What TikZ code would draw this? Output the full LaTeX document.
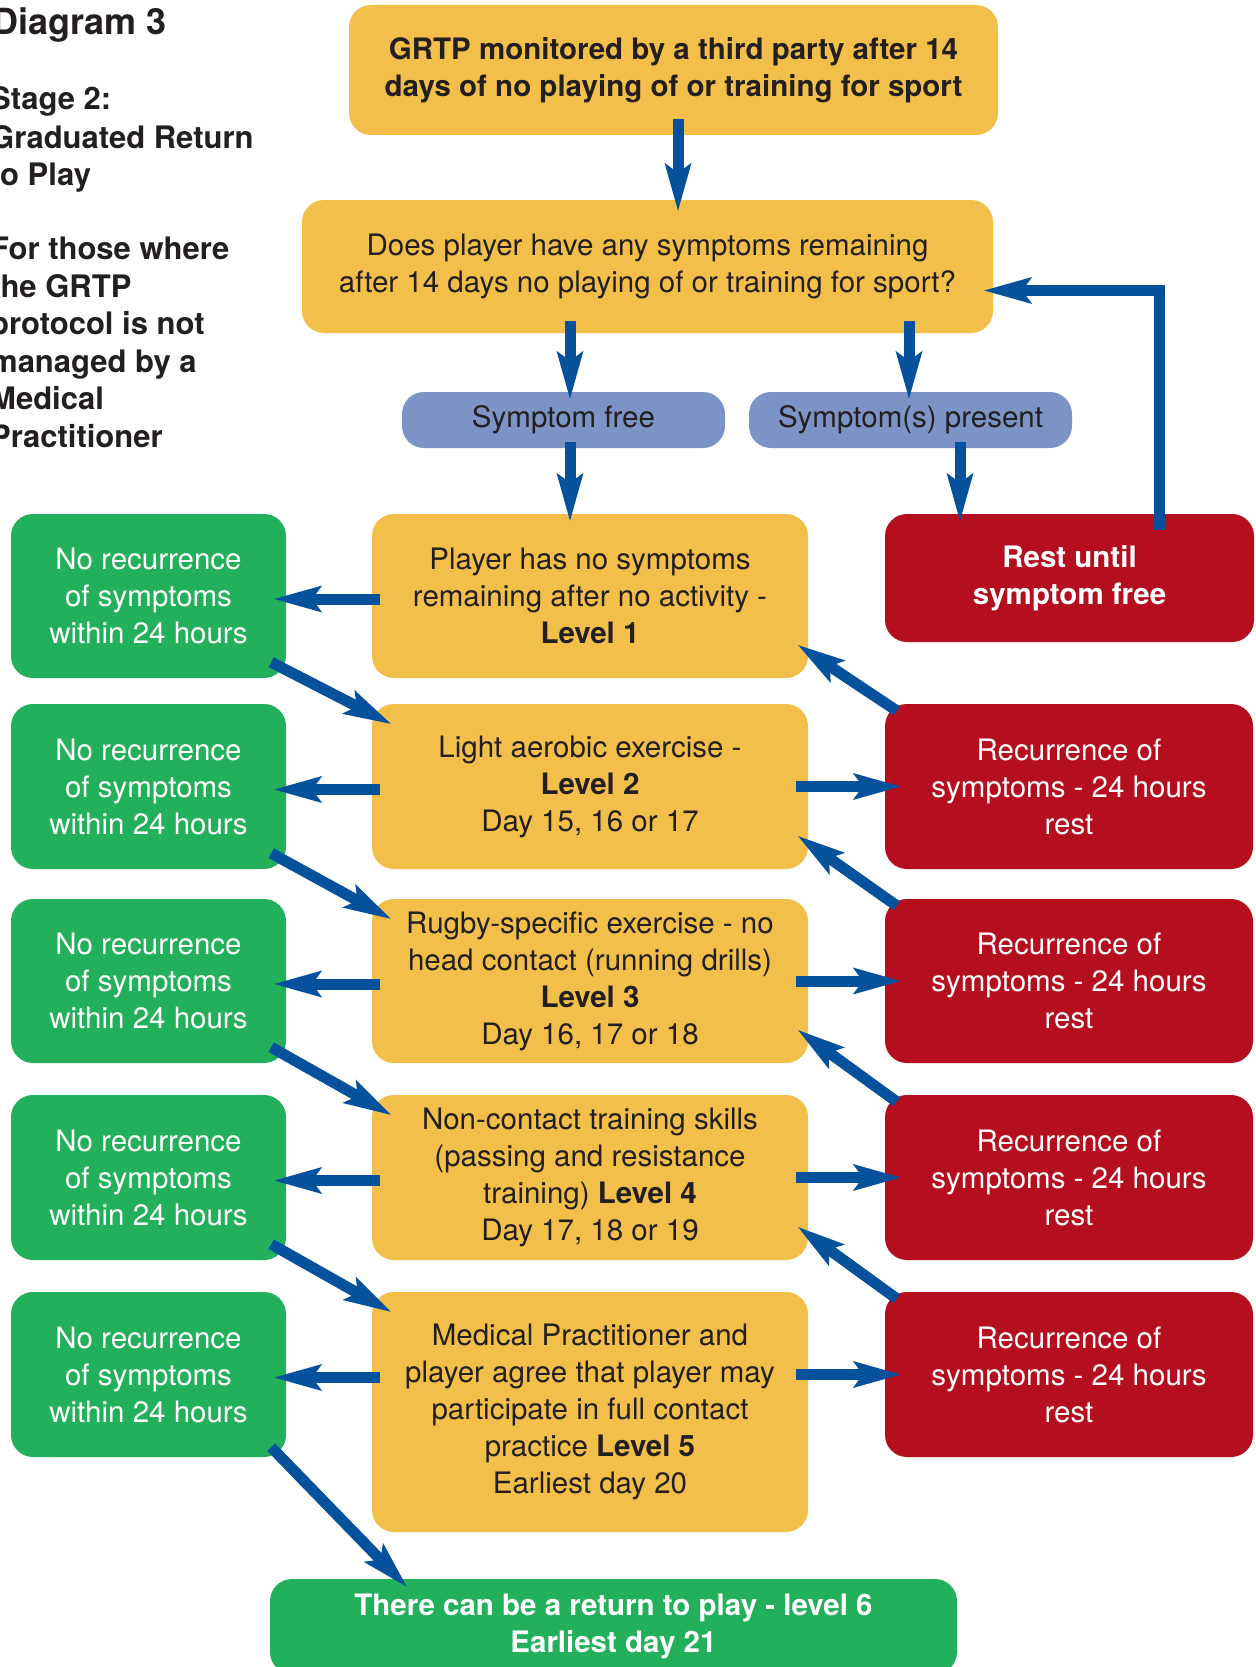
\documentclass[tikz,border=0pt]{standalone}
\usepackage{fontspec}
\setmainfont{TeX Gyre Heros}
\usetikzlibrary{arrows.meta,calc}
\definecolor{ylw}{HTML}{F2BF4A}
\definecolor{grn}{HTML}{22B05A}
\definecolor{rd}{HTML}{B50E1E}
\definecolor{lav}{HTML}{7B93C5}
\definecolor{arrblue}{HTML}{05519C}
\definecolor{txt}{HTML}{231F20}
\newcommand\myfont{\fontsize{29.5}{37}\selectfont}
\begin{document}
\begin{tikzpicture}[x=1pt,y=-1pt,
  box/.style={rounded corners=22pt, inner sep=0pt, align=center, font=\myfont, text=txt},
  ybox/.style={box, fill=ylw},
  gbox/.style={box, fill=grn, text=white},
  rbox/.style={box, fill=rd, text=white},
  bbox/.style={box, fill=lav},
  lefttxt/.style={anchor=base west, inner sep=0pt, font=\fontsize{31}{37}\selectfont\bfseries, text=txt},
  arr/.style={line width=11pt, draw=arrblue, -{Stealth[length=48pt,width=27pt,inset=10pt,line width=0pt]}}
]
\useasboundingbox (0,0) rectangle (1255,1667);
\fill[white] (0,0) rectangle (1255,1667);

% left text
\node[lefttxt, font=\fontsize{36}{40}\selectfont\bfseries] (title) at (-8,35) {Diagram 3};
\node[lefttxt] (s1) at (-10,110) {Stage 2:};
\node[lefttxt] (s2) at (-10,148) {Graduated Return};
\node[lefttxt] (s3) at (-10,185) {to Play};
\node[lefttxt] (s4) at (-10,259) {For those where};
\node[lefttxt] (s5) at (-10,297) {the GRTP};
\node[lefttxt] (s6) at (-10,334) {protocol is not};
\node[lefttxt] (s7) at (-10,372) {managed by a};
\node[lefttxt] (s8) at (-10,409) {Medical};
\node[lefttxt] (s9) at (-10,447) {Practitioner};

% top boxes
\node[ybox, minimum width=649pt, minimum height=130pt] (top) at (673.5,70)
  {\bfseries GRTP monitored by a third party after 14\\\bfseries days of no playing of or training for sport};
\node[ybox, minimum width=691pt, minimum height=133pt] (q) at (647.5,266.5)
  {Does player have any symptoms remaining\\after 14 days no playing of or training for sport?};
\node[bbox, minimum width=323pt, minimum height=56pt] (sf) at (563.5,420) {Symptom free};
\node[bbox, minimum width=323pt, minimum height=56pt] (sp) at (910.5,420) {Symptom(s) present};
\node[rbox, minimum width=369pt, minimum height=128pt] (rest) at (1069.5,578)
  {\bfseries Rest until\\\bfseries symptom free};

% level boxes
\node[ybox, minimum width=436pt, minimum height=164pt] (L1) at (590,596)
  {Player has no symptoms\\remaining after no activity -\\\textbf{Level 1}};
\node[ybox, minimum width=436pt, minimum height=165pt] (L2) at (590,786.5)
  {Light aerobic exercise -\\\textbf{Level 2}\\Day 15, 16 or 17};
\node[ybox, minimum width=436pt, minimum height=164pt] (L3) at (590,981)
  {Rugby-specific exercise - no\\head contact (running drills)\\\textbf{Level 3}\\Day 16, 17 or 18};
\node[ybox, minimum width=436pt, minimum height=165pt] (L4) at (590,1177.5)
  {Non-contact training skills\\(passing and resistance\\training) \textbf{Level 4}\\Day 17, 18 or 19};
\node[ybox, minimum width=436pt, minimum height=240pt] (L5) at (590,1412)
  {Medical Practitioner and\\player agree that player may\\participate in full contact\\practice \textbf{Level 5}\\Earliest day 20};

% green boxes
\node[gbox, minimum width=275pt, minimum height=164pt] (G1) at (148.5,596) {No recurrence\\of symptoms\\within 24 hours};
\node[gbox, minimum width=275pt, minimum height=165pt] (G2) at (148.5,786.5) {No recurrence\\of symptoms\\within 24 hours};
\node[gbox, minimum width=275pt, minimum height=164pt] (G3) at (148.5,981) {No recurrence\\of symptoms\\within 24 hours};
\node[gbox, minimum width=275pt, minimum height=165pt] (G4) at (148.5,1177.5) {No recurrence\\of symptoms\\within 24 hours};
\node[gbox, minimum width=275pt, minimum height=165pt] (G5) at (148.5,1374.5) {No recurrence\\of symptoms\\within 24 hours};

% red boxes
\node[rbox, minimum width=368pt, minimum height=165pt] (R2) at (1069,786.5) {Recurrence of\\symptoms - 24 hours\\rest};
\node[rbox, minimum width=368pt, minimum height=164pt] (R3) at (1069,981) {Recurrence of\\symptoms - 24 hours\\rest};
\node[rbox, minimum width=368pt, minimum height=165pt] (R4) at (1069,1177.5) {Recurrence of\\symptoms - 24 hours\\rest};
\node[rbox, minimum width=368pt, minimum height=165pt] (R5) at (1069,1374.5) {Recurrence of\\symptoms - 24 hours\\rest};

% bottom box
\node[gbox, minimum width=687pt, minimum height=95pt] (fin) at (613.5,1626.5)
  {\bfseries There can be a return to play - level 6\\\bfseries Earliest day 21};

% arrows
\draw[arr] ($(top.south)+(4.5,-16)$) -- ($(q.north)+(30.5,11)$);
\draw[arr] ($(q.south)+(-77.5,-12)$) -- ($(sf.north)+(6.5,7)$);
\draw[arr] ($(q.south)+(261.5,-12)$) -- ($(sp.north)+(-1.5,7)$);
\draw[arr] ($(sf.south)+(6.5,-6)$) -- ($(L1.north)+(-20,7)$);
\draw[arr] ($(sp.south)+(49.5,-6)$) -- ($(rest.north)+(-109.5,7)$);
\draw[arr] ($(rest.north)+(89.5,16)$) |- ($(q.east)+(-9,24)$);

\foreach \i in {1,...,5}{
  \draw[arr] ($(L\i.west|-G\i.east)+(8,3)$) -- ($(G\i.east)+(-12,3)$);
}
\foreach \i in {2,...,5}{
  \draw[arr] ($(L\i.east|-R\i.west)+(-12,0)$) -- ($(R\i.west)+(16,0)$);
}
\foreach \i/\j in {2/1,3/2,4/3,5/4}{
  \draw[arr] ($(R\i.north west)+(12,7)$) -- ($(L\j.south east)+(-10,-33)$);
  \draw[arr] ($(G\j.south east)+(-15,-16)$) -- ($(L\i.north west)+(19,20)$);
}
\draw[arr] ($(G5.south east)+(-15,-10)$) -- ($(fin.north west)+(137,8)$);
\end{tikzpicture}
\end{document}
